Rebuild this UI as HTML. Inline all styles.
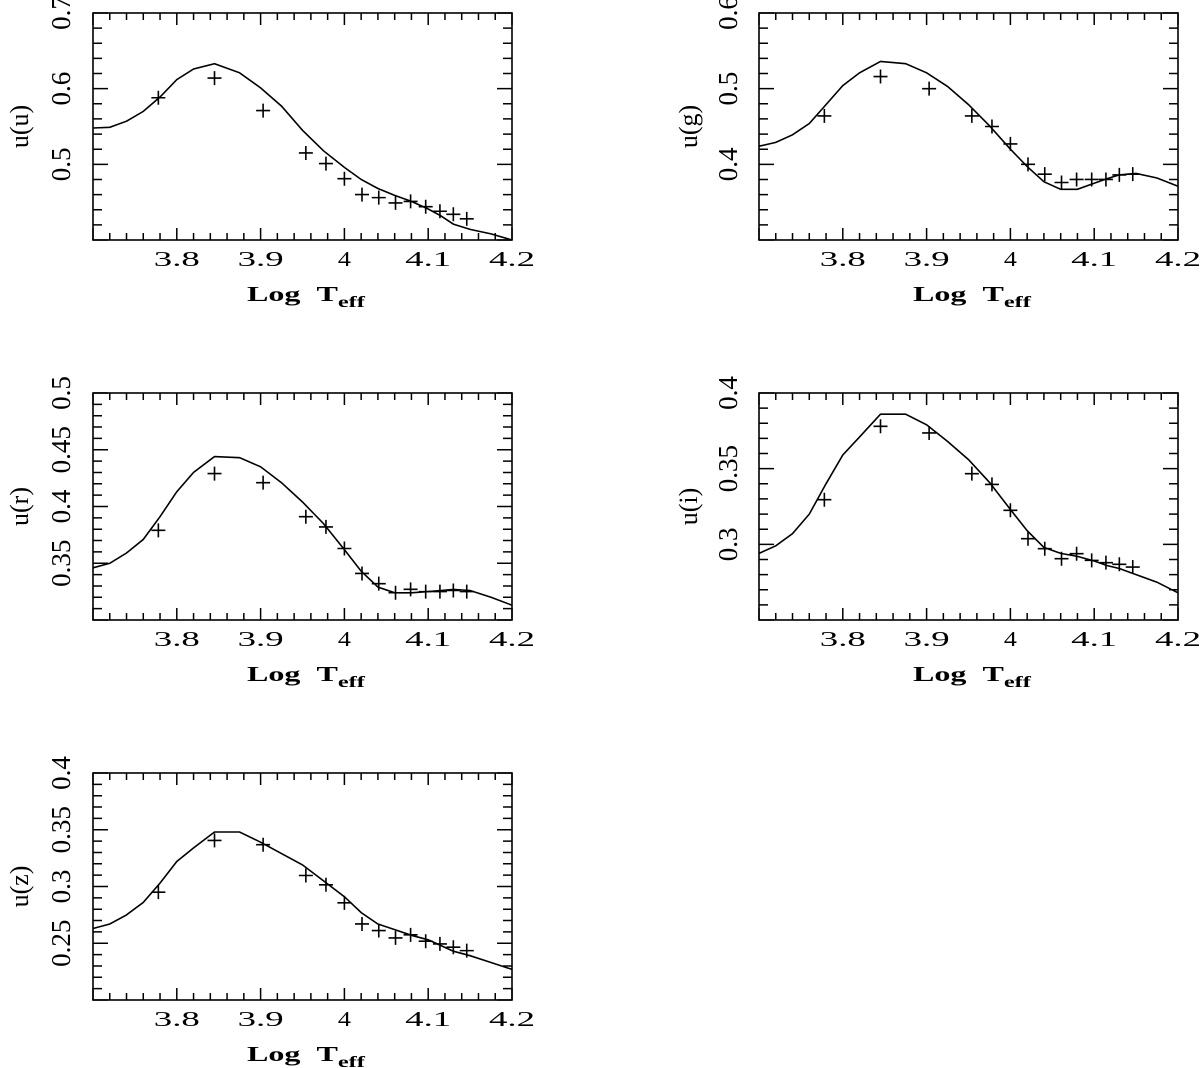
<!DOCTYPE html>
<html><head><meta charset="utf-8"><style>
html,body{margin:0;padding:0;background:#fff;}
svg{display:block;}
text{font-family:"Liberation Serif",serif;fill:#000;}
</style></head><body>
<svg id="fig" width="1200" height="1068" viewBox="0 0 1200 1068"></svg>
<script>
// shared x data
const curveX = [3.7,3.72,3.74,3.76,3.78,3.80,3.82,3.845,3.875,3.90,3.925,3.95,3.975,4.0,4.02,4.04,4.06,4.08,4.10,4.115,4.13,4.15,4.175,4.2];
const pointX = [3.778,3.845,3.903,3.954,3.978,4.0,4.021,4.041,4.061,4.079,4.097,4.114,4.130,4.146];
const xTicks = [3.8,3.9,4.0,4.1,4.2];
const xTickLabels = ["3.8","3.9","4","4.1","4.2"];
// panel u
const curveU = [0.548,0.549,0.557,0.570,0.589,0.612,0.626,0.633,0.621,0.601,0.577,0.545,0.518,0.496,0.480,0.468,0.459,0.451,0.441,0.432,0.421,0.414,0.408,0.400];
const pointsU = [0.588,0.614,0.571,0.515,0.501,0.481,0.460,0.456,0.449,0.451,0.444,0.438,0.434,0.428];
const ticksU = ["0.5","0.6","0.7"];
// panel g
const curveG = [0.424,0.429,0.439,0.454,0.479,0.504,0.521,0.536,0.533,0.521,0.503,0.479,0.451,0.420,0.397,0.377,0.367,0.367,0.375,0.381,0.386,0.388,0.382,0.371];
const pointsG = [0.464,0.516,0.500,0.464,0.450,0.427,0.400,0.387,0.376,0.380,0.380,0.380,0.386,0.387];
const ticksG = ["0.4","0.5","0.6"];
// panel r
const curveR = [0.346,0.350,0.359,0.371,0.391,0.413,0.430,0.444,0.443,0.435,0.421,0.404,0.385,0.362,0.343,0.329,0.324,0.324,0.325,0.326,0.327,0.326,0.320,0.313];
const pointsR = [0.379,0.429,0.421,0.391,0.382,0.363,0.341,0.332,0.324,0.327,0.325,0.325,0.326,0.325];
const ticksR = ["0.35","0.4","0.45","0.5"];
// panel i
const curveI = [0.294,0.299,0.307,0.320,0.340,0.359,0.371,0.386,0.386,0.379,0.368,0.356,0.341,0.323,0.309,0.298,0.294,0.292,0.289,0.286,0.284,0.280,0.275,0.268];
const pointsI = [0.3295,0.378,0.3736,0.3467,0.3396,0.3225,0.3037,0.2971,0.2905,0.2938,0.2894,0.2879,0.2868,0.285];
const ticksI = ["0.3","0.35","0.4"];
// panel z
const curveZ = [0.263,0.267,0.275,0.286,0.303,0.322,0.334,0.348,0.348,0.339,0.329,0.319,0.305,0.291,0.277,0.267,0.262,0.257,0.253,0.248,0.243,0.239,0.233,0.227];
const pointsZ = [0.295,0.3406,0.3368,0.3097,0.3015,0.2856,0.267,0.2612,0.2547,0.2574,0.2518,0.2494,0.2465,0.2435];
const ticksZ = ["0.25","0.3","0.35","0.4"];

const NS="http://www.w3.org/2000/svg";
const svg=document.getElementById('fig');
function mk(tag,attrs,parent){const e=document.createElementNS(NS,tag);for(const k in attrs)e.setAttribute(k,attrs[k]);(parent||svg).appendChild(e);return e;}

const panels=[
 {key:'u',label:'u(u)',curve:curveU,pts:pointsU,ticks:ticksU,ymin:0.4,ymax:0.7,minor:0.02,x0:93,y0:13,ytl:61,ytt:19},
 {key:'g',label:'u(g)',curve:curveG,pts:pointsG,ticks:ticksG,ymin:0.3,ymax:0.6,minor:0.02,x0:759,y0:13,ytl:728,ytt:688},
 {key:'r',label:'u(r)',curve:curveR,pts:pointsR,ticks:ticksR,ymin:0.3,ymax:0.5,minor:0.01,x0:93,y0:393,ytl:61,ytt:19},
 {key:'i',label:'u(i)',curve:curveI,pts:pointsI,ticks:ticksI,ymin:0.25,ymax:0.4,minor:0.01,x0:759,y0:393,ytl:728,ytt:688},
 {key:'z',label:'u(z)',curve:curveZ,pts:pointsZ,ticks:ticksZ,ymin:0.2,ymax:0.4,minor:0.01,x0:93,y0:773,ytl:61,ytt:19}
];
const W=419,H=227;
panels.forEach(p=>{
  const g=mk('g',{});
  
  
  const X=v=>p.x0+(v-3.7)/0.5*W;
  const Y=v=>p.y0+H-(v-p.ymin)/(p.ymax-p.ymin)*H;
  const box=mk('rect',{x:p.x0,y:p.y0,width:W,height:H,fill:'none',stroke:'#000','stroke-width':1.6},g);
  
  
  let d='';
  for(let i=0;i<=25;i++){const v=3.7+i*0.02;const x=X(v);const major=(i%5===0);const L=major?12:7;
    d+=`M${x},${p.y0+H}v${-L}M${x},${p.y0}v${L}`;}
  const nY=Math.round((p.ymax-p.ymin)/p.minor);
  for(let i=0;i<=nY;i++){const v=p.ymin+i*p.minor;const y=Y(v);
    const major=(i%5===0);const L=major?15:9;
    d+=`M${p.x0},${y}h${L}M${p.x0+W},${y}h${-L}`;}
  const tk=mk('path',{d:d,stroke:'#000','stroke-width':1.5,fill:'none'},g);
  
  
  xTicks.forEach((v,i)=>{const s=xTickLabels[i];
    const t=mk('text',{x:X(v),y:p.y0+H+26,'text-anchor':'middle','font-size':21,textLength:s.length===1?13:46,lengthAdjust:'spacingAndGlyphs'},g);
    t.textContent=s;
    
    });
  p.ticks.forEach(s=>{const v=parseFloat(s);const y=Y(v);
    const t=mk('text',{x:0,y:0,'text-anchor':'middle','font-size':27,transform:`translate(${p.ytl+9},${y}) rotate(-90)`},g);
    t.textContent=s;
    
    });
  const xt=mk('text',{x:0,y:0,'text-anchor':'start','font-size':21,'font-weight':'bold'},g);
  xt.innerHTML='Log&#160;&#160;T<tspan font-size="16" dy="6">eff</tspan>';
  
  
  const wNat=xt.getBBox().width||80;
  const sc=119/wNat;
  xt.setAttribute('transform',`translate(${p.x0+154},${p.y0+H+61}) scale(${sc},1)`);
  const yt=mk('text',{x:0,y:0,'text-anchor':'middle','font-size':26,transform:`translate(${p.ytt+9},${p.y0+H/2}) rotate(-90)`},g);
  yt.textContent=p.label;
  
  
  const pts=curveX.map((v,i)=>X(v).toFixed(1)+','+Y(p.curve[i]).toFixed(1)).join(' ');
  const ln=mk('polyline',{points:pts,fill:'none',stroke:'#000','stroke-width':1.6},g);
  
  
  let cd='';
  pointX.forEach((v,i)=>{const x=X(v),y=Y(p.pts[i]);cd+=`M${x-7},${y}h14M${x},${y-7}v14`;});
  const cr=mk('path',{d:cd,stroke:'#000','stroke-width':1.6,fill:'none'},g);
  
  
});
</script>
</body></html>
